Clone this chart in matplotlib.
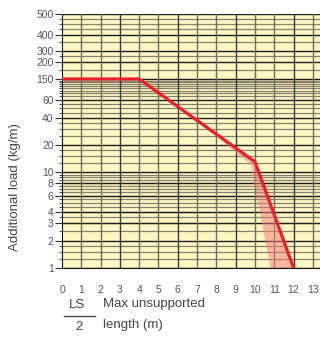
import numpy as np
import matplotlib
matplotlib.use('Agg')
import matplotlib.pyplot as plt

# ── Data ──────────────────────────────
line_x = [0, 4, 10, 12]
line_y = [150, 150, 13, 1]

band_x = [6.6, 10, 12, 10.8, 9.8]
band_y = [43, 13, 1, 1, 12]

ytick_vals = [1, 2, 3, 4, 6, 8, 10, 20, 40, 60, 150, 200, 300, 400, 500]
ytick_pos = [0, 27, 45, 56, 72, 85, 96, 123, 150, 168, 189, 206, 217, 233, 254]
xtick_vals = list(range(0, 14))

minor_vals = ([1.25, 1.5, 1.75] + list(np.arange(2.5, 10, 0.5)) +
              [12.5, 15, 17.5] + list(range(25, 40, 5)) + [45, 50, 55] +
              list(range(70, 150, 10)) + [175, 250, 350, 425, 450, 475])

# ── Scale: nonuniform log paper ──────────────────────
log_vals = np.log10(ytick_vals)


def fwd(y):
    y = np.clip(np.asarray(y, dtype=float), 1e-6, None)
    return np.interp(np.log10(y), log_vals, ytick_pos)


def inv(p):
    return 10 ** np.interp(p, ytick_pos, log_vals)


plt.rcParams['font.family'] = ['Liberation Sans', 'DejaVu Sans']

fig = plt.figure(figsize=(3.2, 3.4), dpi=100)
ax = fig.add_axes([62 / 320, 1 - 268 / 340, 1 - 62 / 320, 254 / 340])
ax.set_yscale('function', functions=(fwd, inv))
ax.set_xlim(0, 13.37)
ax.set_ylim(1, 500)
ax.set_facecolor('#fff7c4')

# grid
for v in minor_vals:
    ax.axhline(v, color='#85816a', lw=0.9, zorder=1)
for v in ytick_vals:
    ax.axhline(v, color='#1e1e1e', lw=1.0, zorder=1)
for i, v in enumerate(xtick_vals[1:]):
    ax.axvline(v, color='#3a3a3a' if i % 3 == 2 else '#6f6c5c', lw=1.0, zorder=1)

# zona de tolerancia
ax.fill(band_x, band_y, color='#f47a78', alpha=0.5, lw=0, zorder=2)
ax.plot(line_x, line_y, color='#e8202a', lw=2.3, solid_joinstyle='miter', zorder=3)

ax.set_yticks(ytick_vals)
ax.set_yticklabels([str(v) for v in ytick_vals])
ax.set_yticks(minor_vals, minor=True)
ax.tick_params(axis='y', which='major', length=5, width=0.8, color='#333',
               labelsize=7.5, labelcolor='#555', pad=1)
ax.tick_params(axis='y', which='minor', length=2.5, width=0.8, color='#555')
ax.yaxis.set_minor_formatter(plt.NullFormatter())

ax.set_xticks(xtick_vals)
ax.tick_params(axis='x', length=0, labelsize=7.5, labelcolor='#555', pad=12)

for s in ['top', 'right']:
    ax.spines[s].set_visible(False)
ax.spines['left'].set_color('#111')
ax.spines['bottom'].set_color('#111')

fig.text(15 / 320, 1 - 187 / 340, 'Additional load (kg/m)', rotation=90,
         ha='center', va='center', fontsize=9.5, color='#444')

fig.text(77 / 320, 1 - 305 / 340, 'LS', ha='center', va='center',
         fontsize=9.5, color='#444')
fig.add_artist(plt.Line2D([64 / 320, 95 / 320], [1 - 316 / 340] * 2,
                          color='#444', lw=1.0))
fig.text(79 / 320, 1 - 327 / 340, '2', ha='center', va='center',
         fontsize=9.5, color='#444')
fig.text(103 / 320, 1 - 304 / 340, 'Max unsupported', ha='left', va='center',
         fontsize=9.5, color='#444')
fig.text(103 / 320, 1 - 325 / 340, 'length (m)', ha='left', va='center',
         fontsize=9.5, color='#444')

fig.savefig('out.png', dpi=100)
